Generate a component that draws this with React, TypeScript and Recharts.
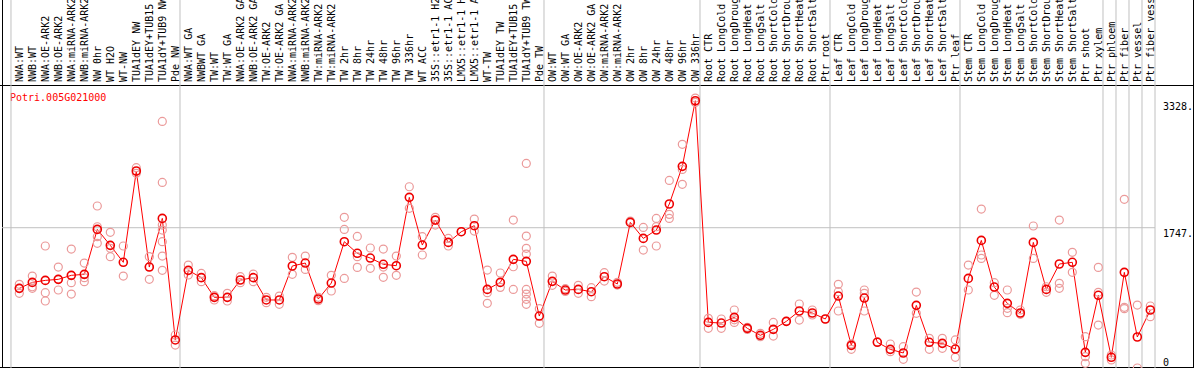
import { ComposedChart, Line, Scatter, XAxis, YAxis, ReferenceLine } from "recharts"

const geneId = "Potri.005G021000"

const sampleLabels = [
  "NWA:WT", "NWB:WT", "NWA:OE-ARK2", "NWB:OE-ARK2", "NWA:miRNA-ARK2", "NWB:miRNA-ARK2",
  "NW 0hr", "WT H2O", "WT-NW", "TUA1dEY NW", "TUA1dEY+TUB15 NW", "TUA1dY+TUB9 NW", "Pde NW",
  "NWA:WT GA", "NWBWT GA", "TW:WT", "TW:WT GA", "NWA:OE-ARK2 GA", "NWB:OE-ARK2 GA",
  "TW:OE-ARK2", "TW:OE-ARK2 GA", "NWA:miRNA-ARK2 GA", "NWB:miRNA-ARK2 GA", "TW:miRNA-ARK2",
  "TW:miRNA-ARK2 GA", "TW 2hr", "TW 8hr", "TW 24hr", "TW 48hr", "TW 96hr", "TW 336hr", "WT ACC",
  "35S::etr1-1 H2O", "35S::etr1-1 ACC", "LMX5::etr1-1 H2O", "LMX5::etr1-1 ACC", "WT-TW",
  "TUA1dEY TW", "TUA1dEY+TUB15 TW", "TUA1dY+TUB9 TW", "Pde TW",
  "OW:WT", "OW:WT GA", "OW:OE-ARK2", "OW:OE-ARK2 GA", "OW:miRNA-ARK2", "OW:miRNA-ARK2 GA",
  "OW 2hr", "OW 8hr", "OW 24hr", "OW 48hr", "OW 96hr", "OW 336hr",
  "Root CTR", "Root LongCold", "Root LongDrought", "Root LongHeat", "Root LongSalt",
  "Root ShortCold", "Root ShortDrought", "Root ShortHeat", "Root ShortSalt", "Ptr root",
  "Leaf CTR", "Leaf LongCold", "Leaf LongDrought", "Leaf LongHeat", "Leaf LongSalt",
  "Leaf ShortCold", "Leaf ShortDrought", "Leaf ShortHeat", "Leaf ShortSalt", "Ptr leaf",
  "Stem CTR", "Stem LongCold", "Stem LongDrought", "Stem LongHeat", "Stem LongSalt",
  "Stem ShortCold", "Stem ShortDrought", "Stem ShortHeat", "Stem ShortSalt", "Ptr shoot", "Ptr xylem",
  "Ptr phloem", "Ptr fiber", "Ptr vessel", "Ptr fiber vessel",
]

// first sample index of each block (a grey separator sits before each one)
const groupStarts = [0, 13, 41, 53, 63, 73, 84, 85, 86, 87, 88]

const means = [
  992, 1066, 1091, 1104, 1154, 1166, 1726, 1527, 1316, 2453, 1257, 1863, 349,
  1216, 1125, 880, 880, 1096, 1125, 847, 847, 1270, 1307, 859, 1058, 1573, 1428, 1369,
  1291, 1274, 2125, 1531, 1842, 1564, 1697, 1772, 979, 1066, 1353, 1328, 647,
  1079, 971, 979, 950, 1137, 1046, 1813, 1614, 1718, 2042, 2511, 3328,
  568, 560, 631, 494, 407, 481, 581, 710, 685, 610,
  896, 282, 871, 320, 232, 187, 780, 320, 307, 236,
  1116, 1589, 1008, 805, 685, 1564, 979, 1295, 1316, 195, 905,
  133, 1191, 386, 722,
]

const replicates = [
  [1042, 992, 930], [1145, 1012, 992], [1519, 938, 834], [1257, 971, 1104], [1481, 1062, 921],
  [1307, 1075, 1125], [2017, 1759, 1635, 1552], [1689, 1490, 1386], [1519, 1145], [2494, 2424],
  [1386, 1104, 1262], [3071, 2311, 1718, 1573, 1394, 1216, 1780], [411, 286],
  [1282, 1158], [1178, 1075], [847, 900], [930, 834], [1137, 1062], [1170, 1075], [880, 813],
  [896, 793], [1378, 1166], [1394, 1228], [880, 838], [1154, 959], [1876, 1726, 1116],
  [1639, 1386, 1253], [1494, 1241], [1481, 1257, 1129], [1394, 1154], [2257, 1988], [1635, 1407],
  [1876, 1780], [1614, 1519], [1697], [1855, 1705], [1220, 805, 938], [1183, 1004],
  [1842, 1261, 979], [2548, 1643, 1490, 1419, 979, 921, 855, 793], [739, 556],
  [1145, 1029], [988, 954], [1029, 930], [1000, 888], [1187, 1083], [1067, 1033], [1830],
  [1751, 1469], [1863, 1759, 1519], [2336, 1913, 1863], [2785, 2473, 2287], [3361, 3307],
  [618, 494], [610, 494], [722, 568, 600], [506, 481], [432, 390], [568, 398], [581],
  [797, 597], [722, 660], [610],
  [1042, 950, 710], [232, 300], [971, 930, 710], [328], [299, 203], [265, 108], [946, 681],
  [369, 232], [369, 245], [349, 133],
  [1282, 971], [1979, 1407, 1365], [1062, 905], [971, 743, 689], [722, 668], [1768, 1365],
  [1012, 942], [1842, 1054, 992], [1440, 1191], [390, 141, 58], [1253, 942, 535],
  [162, 100], [2100, 755, 739], [784, 0], [772, 639],
]

const yTicks = [0, 1747, 3328]
const yTickLabels = ["0", "1747.", "3328."]

const chartData = means.map((m, i) => ({ i, mean: m }))
const repData = replicates.flatMap((r, i) => r.map((v) => ({ i, v })))
const sampleTicks = sampleLabels.map((_, i) => i)

const FONT = "'DejaVu Sans Mono', monospace"
const Y_MAX = 3524
const Y_TOP = 4582 // value at the very top of the picture (header included)

function HeaderTick(props: any) {
  const { x, payload } = props
  return (
    <text
      x={x}
      y={82}
      dy="0.36em"
      transform={`rotate(-90 ${x} 82)`}
      fontFamily={FONT}
      fontSize={10}
      fill="#000"
      textAnchor="start"
    >
      {sampleLabels[payload.value]}
    </text>
  )
}

function ValueTick(props: any) {
  const { y, payload } = props
  const idx = yTicks.indexOf(payload.value)
  return (
    <text
      x={1163}
      y={payload.value === 0 ? y - 2 : y + 9}
      fontFamily={FONT}
      fontSize={10}
      fill="#000"
      textAnchor="start"
    >
      {yTickLabels[idx]}
    </text>
  )
}

function RepDot(props: any) {
  const { cx, cy } = props
  return <circle cx={cx} cy={cy} r={4} fill="none" stroke="#eb9a9a" strokeWidth={1.2} />
}

function MeanDot(props: any) {
  const { cx, cy, index } = props
  return <circle key={index} cx={cx} cy={cy} r={4} fill="none" stroke="#ee0000" strokeWidth={1.6} />
}

export default function App() {
  return (
    <div style={{ position: "absolute", left: 0, top: 0, background: "#fff" }}>
      <ComposedChart width={1194} height={370} data={chartData} margin={{ top: 0, right: 0, bottom: 2, left: 2 }}>
        <XAxis
          dataKey="i"
          type="number"
          orientation="top"
          height={85}
          domain={[-1.331, 87.36]}
          allowDataOverflow
          ticks={sampleTicks}
          interval={0}
          tick={<HeaderTick />}
          tickLine={false}
          axisLine={false}
        />
        <YAxis
          orientation="right"
          width={39}
          domain={[0, Y_MAX]}
          allowDataOverflow
          ticks={yTicks}
          interval={0}
          tick={<ValueTick />}
          tickLine={false}
          axisLine={false}
        />
        <ReferenceLine y={1747} stroke="#c0c0c0" />
        {groupStarts.map((g) => (
          <ReferenceLine
            key={g}
            segment={[{ x: g - 0.64, y: 0 }, { x: g - 0.64, y: Y_TOP }]}
            stroke="#c0c0c0"
            ifOverflow="visible"
          />
        ))}
        <Scatter data={repData} dataKey="v" shape={<RepDot />} isAnimationActive={false} />
        <Line
          dataKey="mean"
          type="linear"
          stroke="#ff0000"
          strokeWidth={1}
          dot={<MeanDot />}
          activeDot={false}
          isAnimationActive={false}
        />
        <line x1={2.5} y1={0} x2={2.5} y2={368} stroke="#000" />
        <line x1={1193.5} y1={0} x2={1193.5} y2={368} stroke="#000" />
        <line x1={0} y1={85.5} x2={1194} y2={85.5} stroke="#000" />
        <line x1={0} y1={367.5} x2={1194} y2={367.5} stroke="#000" />
        <text x={10} y={101} fontFamily={FONT} fontSize={10} fill="#ff0000">
          {geneId}
        </text>
      </ComposedChart>
    </div>
  )
}
